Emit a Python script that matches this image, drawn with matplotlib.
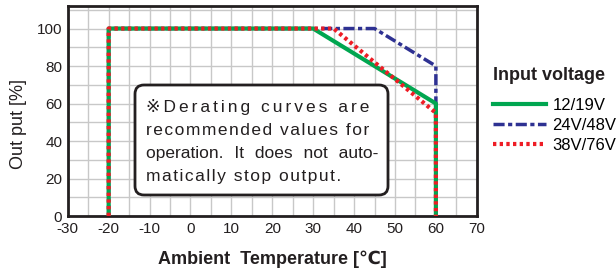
import matplotlib.pyplot as plt
from matplotlib.patches import FancyBboxPatch
from matplotlib.transforms import IdentityTransform

plt.rcParams['font.family'] = ['Liberation Sans', 'DejaVu Sans', 'Noto Sans CJK JP']
plt.rcParams['axes.unicode_minus'] = False

# Derating curves (ambient temperature [C], output [%])
temp_12_19 = [-20, -20, 30, 60, 60]
out_12_19 = [0, 100, 100, 60, 0]

temp_24_48 = [-20, -20, 45, 60, 60]
out_24_48 = [0, 100, 100, 80, 0]

temp_38_76 = [-20, -20, 35, 60, 60]
out_38_76 = [0, 100, 100, 55, 0]

labels = ['12/19V', '24V/48V', '38V/76V']
xticks = list(range(-30, 71, 10))
yticks = list(range(0, 101, 20))

note_lines = ['※Derating curves are', 'recommended values for',
              'operation. It does not auto-', 'matically stop output.']
note_track = [2, 1, 0, 1]   # hair spaces between letters
note_word = [0, 0, 4, 0]    # extra hair spaces at word gaps


def track(s, n, w):
    # crude letter spacing with hair spaces
    s = s.replace(' ', ' ' + '\u200a' * w)
    return ('\u200a' * n).join(s)


fig = plt.figure(figsize=(6.16, 2.75), dpi=100)
ax = fig.add_axes([0.110, 0.2145, 0.664, 0.7635])

# grid
for x in range(-30, 71, 5):
    ax.axvline(x, color='#c8c8c8', lw=1, zorder=0)
for y in range(0, 111, 10):
    ax.axhline(y, color='#c8c8c8', lw=1, zorder=0)

ax.plot(temp_24_48, out_24_48, color='#2e3192', lw=2.5,
        dashes=(3.2, 1, 1.2, 1), label=labels[1], zorder=3)
ax.plot(temp_12_19, out_12_19, color='#00a650', lw=3,
        label=labels[0], zorder=4)
ax.plot(temp_38_76, out_38_76, color='#ee1c25', lw=3,
        dashes=(0.8, 0.8), label=labels[2], zorder=5)

ax.set_xlim(-30, 70)
ax.set_ylim(0, 112)
ax.set_xticks(xticks)
ax.set_yticks(yticks)
ax.tick_params(length=0, labelsize=11, colors='#231f20', pad=4)
for s in ax.spines.values():
    s.set_linewidth(2)
    s.set_color('#231f20')

ax.set_ylabel('Out put [%]', fontsize=13, color='#231f20')
ax.yaxis.set_label_coords(-0.10, 0.44)
ax.set_xlabel('Ambient  Temperature [℃]', fontsize=13, fontweight='bold',
              color='#231f20', labelpad=11)

# legend
handles, lbls = ax.get_legend_handles_labels()
order = [1, 0, 2]
fig.text(493 / 616, 1 - 75 / 275, 'Input voltage', fontsize=13,
         fontweight='bold', color='#231f20', va='center', ha='left')
leg = fig.legend([handles[i] for i in order], [lbls[i] for i in order],
                 loc='upper left', bbox_to_anchor=(493 / 616, 1 - 98 / 275),
                 frameon=False, fontsize=12, handlelength=3.2,
                 handletextpad=0.36, labelspacing=0.3, borderpad=0,
                 borderaxespad=0)

# note box (pixel coordinates)
box = FancyBboxPatch((135, 275 - 195), 253, 110,
                     boxstyle='round,pad=0,rounding_size=9',
                     transform=IdentityTransform(), facecolor='white',
                     edgecolor='#231f20', lw=2, zorder=6)
fig.patches.append(box)
for i, line in enumerate(note_lines):
    fig.text(146 / 616, 1 - (112 + 23 * i) / 275,
             track(line, note_track[i], note_word[i]),
             fontsize=12.5, color='#231f20', va='baseline', ha='left',
             zorder=7)

fig.savefig('out.png', dpi=100)
